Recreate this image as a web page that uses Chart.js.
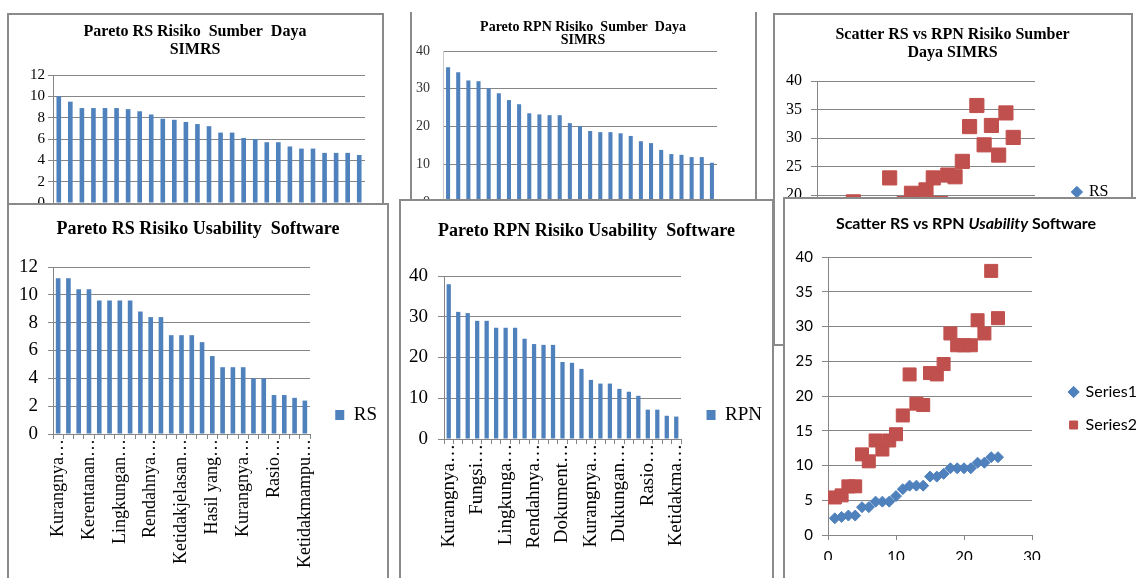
<!DOCTYPE html>
<html>
<head>
<meta charset="utf-8">
<title>Pareto dan Scatter Risiko SIMRS &amp; Usability Software</title>
<script src="https://cdn.jsdelivr.net/npm/chart.js@4.4.1/dist/chart.umd.min.js"></script>
<style>
  html, body { margin: 0; padding: 0; background: #fff; }
  body { width: 1136px; height: 578px; position: relative; overflow: hidden; }
  .panel { position: absolute; box-sizing: border-box; border: 2px solid #8a8a8a; background: #fff; }
  .panel canvas { position: absolute; left: 0; top: 0; }
</style>
</head>
<body>

<div class="panel" style="left:7px; top:13px; width:377px; height:330px; z-index:1">
  <canvas id="rsSimrsChart" width="372" height="330"></canvas>
</div>
<div class="panel" style="left:410px; top:12px; width:347px; height:330px; border-top:none; z-index:1">
  <canvas id="rpnSimrsChart" width="342" height="330"></canvas>
</div>
<div class="panel" style="left:773px; top:13px; width:360px; height:333px; z-index:1">
  <canvas id="scatterSimrsChart" width="355" height="380"></canvas>
</div>

<div class="panel" style="left:7px; top:203px; width:382px; height:430px; z-index:2">
  <canvas id="rsUsabChart" width="378" height="420"></canvas>
</div>
<div class="panel" style="left:399px; top:199px; width:375px; height:430px; z-index:2">
  <canvas id="rpnUsabChart" width="371" height="428"></canvas>
</div>
<div class="panel" style="left:783px; top:197px; width:366px; height:430px; z-index:2">
  <canvas id="scatterUsabChart" width="362" height="400"></canvas>
</div>

<script>
// ---- data: Sumber Daya SIMRS (27 risiko) ----
const rsSimrs = [10.0, 9.5, 8.9, 8.9, 8.9, 8.9, 8.8, 8.6, 8.3, 7.9, 7.8, 7.6, 7.4, 7.2,
                 6.6, 6.6, 6.1, 6.0, 5.7, 5.7, 5.3, 5.1, 5.1, 4.7, 4.7, 4.7, 4.5];
const rpnSimrs = [35.7, 34.4, 32.2, 32.0, 30.1, 28.8, 27.0, 25.9, 23.5, 23.2, 23.0, 23.0, 20.9, 20.1,
                  18.8, 18.5, 18.5, 18.2, 17.5, 16.1, 15.6, 13.8, 12.7, 12.5, 11.9, 11.9, 10.4];
// same risks in register order (risk no. 1..27) for the scatter
const rsSimrsByNo  = [4.5, 4.7, 4.7, 4.7, 6.0, 5.1, 5.1, 5.3, 5.7, 7.6, 5.7, 6.6, 6.6, 6.1,
                      7.2, 7.4, 7.8, 7.9, 8.3, 8.6, 8.9, 10.0, 8.8, 8.9, 8.9, 9.5, 8.9];
const rpnSimrsByNo = [10.4, 11.9, 11.9, 12.5, 18.8, 12.7, 13.8, 15.6, 16.1, 23.0, 17.5, 18.5, 20.3, 18.2,
                      20.9, 23.0, 18.5, 23.5, 23.2, 25.9, 32.0, 35.7, 28.8, 32.2, 27.0, 34.4, 30.1];

// ---- data: Usability Software (25 risiko) ----
const rsUsabLabels = ['Kurangnya…', '', '', 'Kerentanan…', '', '', 'Lingkungan…', '', '',
                      'Rendahnya…', '', '', 'Ketidakjelasan…', '', '', 'Hasil yang…', '', '',
                      'Kurangnya…', '', '', 'Rasio…', '', '', 'Ketidakmampu…'];
const rsUsab = [11.2, 11.2, 10.4, 10.4, 9.6, 9.6, 9.6, 9.6, 8.8, 8.4, 8.4, 7.1, 7.1, 7.1,
                6.6, 5.6, 4.8, 4.8, 4.8, 4.0, 4.0, 2.8, 2.8, 2.6, 2.4];
const rpnUsabLabels = ['Kurangnya…', '', '', 'Fungsi…', '', '', 'Lingkunga…', '', '',
                       'Rendahnya…', '', '', 'Dokument…', '', '', 'Kurangnya…', '', '',
                       'Dukungan…', '', '', 'Rasio…', '', '', 'Ketidakma…'];
const rpnUsab = [38.0, 31.2, 30.9, 29.0, 29.0, 27.3, 27.3, 27.3, 24.6, 23.3, 23.1, 23.1, 18.9, 18.7,
                 17.2, 14.5, 13.6, 13.6, 12.3, 11.6, 10.6, 7.2, 7.2, 5.7, 5.5];
const series1 = [2.4, 2.6, 2.8, 2.8, 4.0, 4.0, 4.8, 4.8, 4.8, 5.6, 6.6, 7.1, 7.1, 7.1,
                 8.4, 8.4, 8.8, 9.6, 9.6, 9.6, 9.6, 10.4, 10.4, 11.2, 11.2];
const series2 = [5.4, 5.7, 7.0, 7.0, 11.6, 10.6, 13.6, 12.3, 13.6, 14.5, 17.2, 23.1, 18.9, 18.7,
                 23.3, 23.1, 24.6, 29.0, 27.3, 27.3, 27.3, 30.9, 29.0, 38.0, 31.2];

// ---- common look ----
const BLUE = '#4F81BD', RED = '#C0504D', GRID = '#868686';
const SERIF = '"Liberation Serif", "Times New Roman", serif';
const SANS = 'Lato, "Liberation Sans", sans-serif';

Chart.defaults.animation = false;
Chart.defaults.responsive = false;
Chart.defaults.color = '#000';
Chart.defaults.font.family = SERIF;
Chart.defaults.plugins.tooltip.enabled = false;

const fixWidth = w => s => { s.width = w; };
const fixHeight = h => s => { s.height = h; };
const toPoints = arr => arr.map((y, i) => ({ x: i + 1, y }));
const riskIds = arr => arr.map((_, i) => 'R' + (i + 1));

// width Chart.js gives a one-column legend on the right
const measureCtx = document.createElement('canvas').getContext('2d');
function legendWidth(texts, size, family, boxWidth, padding) {
  measureCtx.font = size + 'px ' + family;
  const tw = Math.max(...texts.map(t => measureCtx.measureText(t).width));
  return padding + boxWidth + size / 2 + tw + 10;
}

// hidden axis on the right: only reserves space so the plot ends where we want it
function gapAxis(w) {
  return { type: 'linear', position: 'right', display: false, afterFit: fixWidth(Math.max(w, 0)) };
}

function serifTitle(text, size, lineHeight, top, bottom) {
  return { display: true, text, color: '#000', padding: { top, bottom },
           font: { family: SERIF, size, weight: 'bold', lineHeight: lineHeight / size } };
}

// bold title with an italic word, drawn centred at a fixed height
const mixedTitle = {
  id: 'mixedTitle',
  afterDraw(chart, args, opts) {
    const ctx = chart.ctx;
    ctx.save();
    ctx.fillStyle = '#000';
    ctx.textBaseline = 'middle';
    let total = 0;
    const parts = opts.parts.map(p => {
      ctx.font = p.font;
      const w = ctx.measureText(p.text).width;
      total += w;
      return { text: p.text, font: p.font, w };
    });
    let x = chart.width / 2 - total / 2;
    parts.forEach(p => { ctx.font = p.font; ctx.fillText(p.text, x, opts.y); x += p.w; });
    ctx.restore();
  }
};

// ---- Pareto RS Risiko Sumber Daya SIMRS ----
new Chart(document.getElementById('rsSimrsChart'), {
  type: 'bar',
  data: { labels: riskIds(rsSimrs),
          datasets: [{ label: 'RS', data: rsSimrs, backgroundColor: BLUE, barPercentage: 0.4, categoryPercentage: 1 }] },
  options: {
    plugins: {
      legend: { display: false },
      title: serifTitle(['Pareto RS Risiko  Sumber  Daya', 'SIMRS'], 16, 18, 8, 16)
    },
    scales: {
      x: { grid: { display: false }, border: { color: GRID }, ticks: { display: false }, afterFit: fixHeight(142) },
      y: { min: 0, max: 12, ticks: { stepSize: 2, padding: 3, font: { size: 15 } },
           grid: { color: GRID, tickLength: 5 }, border: { color: GRID }, afterFit: fixWidth(44) },
      gap: gapAxis(372 - 356)
    }
  }
});

// ---- Pareto RPN Risiko Sumber Daya SIMRS ----
new Chart(document.getElementById('rpnSimrsChart'), {
  type: 'bar',
  data: { labels: riskIds(rpnSimrs),
          datasets: [{ label: 'RPN', data: rpnSimrs, backgroundColor: BLUE, barPercentage: 0.4, categoryPercentage: 1 }] },
  options: {
    plugins: {
      legend: { display: false },
      title: serifTitle(['Pareto RPN Risiko  Sumber  Daya', 'SIMRS'], 14, 13, 8.5, 4.5)
    },
    scales: {
      x: { grid: { display: false }, border: { color: '#c8c8c8' }, ticks: { display: false }, afterFit: fixHeight(140) },
      y: { min: 0, max: 40, ticks: { stepSize: 5, padding: 13, color: '#333', font: { size: 14 } },
           grid: { color: GRID, drawTicks: false }, border: { color: '#c8c8c8' }, afterFit: fixWidth(31) },
      gap: gapAxis(342 - 305)
    }
  }
});

// ---- Scatter RS vs RPN Risiko Sumber Daya SIMRS ----
const simrsLegendW = legendWidth(['RS', 'RPN'], 16, SERIF, 8, 10);
new Chart(document.getElementById('scatterSimrsChart'), {
  type: 'scatter',
  data: { datasets: [
    { label: 'RS', data: toPoints(rsSimrsByNo), pointStyle: 'rectRot', pointRadius: 5,
      backgroundColor: BLUE, borderColor: BLUE },
    { label: 'RPN', data: toPoints(rpnSimrsByNo), pointStyle: 'rect', pointRadius: 10,
      backgroundColor: RED, borderColor: RED }
  ] },
  options: {
    plugins: {
      title: serifTitle(['Scatter RS vs RPN Risiko Sumber', 'Daya SIMRS'], 16, 18, 11, 19),
      legend: { position: 'right', maxWidth: 200,
                labels: { usePointStyle: true, boxWidth: 8, boxHeight: 8, padding: 10, font: { size: 16 } } }
    },
    scales: {
      x: { min: 0, max: 30, ticks: { stepSize: 10, font: { size: 16 } },
           grid: { drawOnChartArea: false, color: GRID, tickLength: 5 }, border: { color: GRID }, afterFit: fixHeight(86) },
      y: { min: 0, max: 40, ticks: { stepSize: 5, padding: 9, font: { size: 16 } },
           grid: { color: GRID, tickLength: 6 }, border: { color: GRID }, afterFit: fixWidth(42) },
      gap: gapAxis(355 - simrsLegendW - 260)
    }
  }
});

// ---- Pareto RS Risiko Usability Software ----
const rsLegendW = legendWidth(['RS'], 19, SERIF, 9, 10);
new Chart(document.getElementById('rsUsabChart'), {
  type: 'bar',
  data: { labels: rsUsabLabels,
          datasets: [{ label: 'RS', data: rsUsab, backgroundColor: BLUE, barPercentage: 0.45, categoryPercentage: 1 }] },
  options: {
    plugins: {
      title: serifTitle('Pareto RS Risiko Usability  Software', 18, 21.6, 14, 26.4),
      legend: { position: 'right', maxWidth: 200,
                labels: { boxWidth: 9, boxHeight: 10, padding: 10, font: { size: 19 } } }
    },
    scales: {
      x: { ticks: { autoSkip: false, minRotation: 90, maxRotation: 90, padding: 0, font: { size: 18 } },
           grid: { drawOnChartArea: false, color: GRID, tickLength: 5 }, border: { color: GRID }, afterFit: fixHeight(191) },
      y: { min: 0, max: 12, ticks: { stepSize: 2, padding: 10, font: { size: 19 } },
           grid: { color: GRID, tickLength: 5 }, border: { color: GRID }, afterFit: fixWidth(44) },
      gap: gapAxis(378 - rsLegendW - 301)
    }
  }
});

// ---- Pareto RPN Risiko Usability Software ----
const rpnLegendW = legendWidth(['RPN'], 19, SERIF, 9, 10);
new Chart(document.getElementById('rpnUsabChart'), {
  type: 'bar',
  data: { labels: rpnUsabLabels,
          datasets: [{ label: 'RPN', data: rpnUsab, backgroundColor: BLUE, barPercentage: 0.45, categoryPercentage: 1 }] },
  options: {
    plugins: {
      title: serifTitle('Pareto RPN Risiko Usability  Software', 18, 21.6, 20, 33.4),
      legend: { position: 'right', maxWidth: 200,
                labels: { boxWidth: 9, boxHeight: 10, padding: 10, font: { size: 19 } } }
    },
    scales: {
      x: { ticks: { autoSkip: false, minRotation: 90, maxRotation: 90, padding: 0, font: { size: 19 } },
           grid: { drawOnChartArea: false, color: GRID, tickLength: 5 }, border: { color: GRID }, afterFit: fixHeight(190) },
      y: { min: 0, max: 40, ticks: { stepSize: 10, padding: 10, font: { size: 19 } },
           grid: { color: GRID, tickLength: 6 }, border: { color: GRID }, afterFit: fixWidth(43) },
      gap: gapAxis(371 - rpnLegendW - 280)
    }
  }
});

// ---- Scatter RS vs RPN Usability Software ----
const usabLegendW = legendWidth(['Series1', 'Series2'], 16, SANS, 8, 17);
new Chart(document.getElementById('scatterUsabChart'), {
  type: 'scatter',
  data: { datasets: [
    { label: 'Series1', data: toPoints(series1), pointStyle: 'rectRot', pointRadius: 5.5,
      backgroundColor: BLUE, borderColor: BLUE },
    { label: 'Series2', data: toPoints(series2), pointStyle: 'rect', pointRadius: 9.2,
      backgroundColor: RED, borderColor: RED }
  ] },
  plugins: [mixedTitle],
  options: {
    layout: { padding: { left: 0, right: 0, top: 58, bottom: 39 } },
    plugins: {
      mixedTitle: { y: 25, parts: [
        { text: 'Scatter RS vs RPN ', font: 'bold 16px ' + SANS },
        { text: 'Usability', font: 'italic bold 16px ' + SANS },
        { text: ' Software', font: 'bold 16px ' + SANS }
      ] },
      legend: { position: 'right', maxWidth: 200,
                labels: { usePointStyle: true, boxWidth: 8, boxHeight: 8, padding: 17, font: { family: SANS, size: 16 } } }
    },
    scales: {
      x: { min: 0, max: 30, ticks: { stepSize: 10, padding: 8, font: { family: SANS, size: 15 } },
           grid: { drawOnChartArea: false, color: GRID, tickLength: 5 }, border: { color: GRID }, afterFit: fixHeight(25) },
      y: { min: 0, max: 40, ticks: { stepSize: 5, padding: 9, font: { family: SANS, size: 15 } },
           grid: { color: GRID, tickLength: 6 }, border: { color: GRID }, afterFit: fixWidth(43) },
      gap: gapAxis(362 - usabLegendW - 247)
    }
  }
});
</script>
</body>
</html>
